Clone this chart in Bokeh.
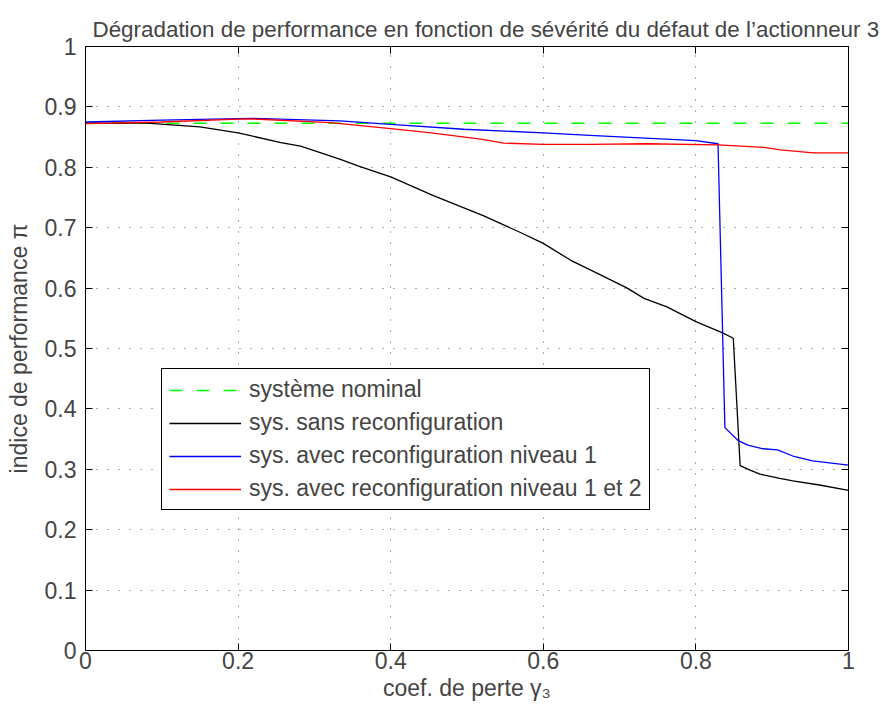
from bokeh.plotting import figure
from bokeh.models import Range1d, FixedTicker, LinearAxis, CustomJSTickFormatter
from bokeh.embed import file_html
from bokeh.resources import INLINE

title_text = "Dégradation de performance en fonction de sévérité du défaut de l’actionneur 3"
x_label = "coef. de perte γ₃"
y_label = "indice de performance π"

x_ticks = [0, 0.2, 0.4, 0.6, 0.8, 1.0]
x_tick_labels = ["0", "0.2", "0.4", "0.6", "0.8", "1"]
y_ticks = [0, 0.1, 0.2, 0.3, 0.4, 0.5, 0.6, 0.7, 0.8, 0.9, 1.0]
y_tick_labels = ["0", "0.1", "0.2", "0.3", "0.4", "0.5", "0.6", "0.7", "0.8", "0.9", "1"]

series_names = ["système nominal", "sys. sans reconfiguration",
                "sys. avec reconfiguration niveau 1", "sys. avec reconfiguration niveau 1 et 2"]

gamma_nominal = [0.0, 1.0]
perf_nominal = [0.873, 0.873]

gamma_sans = [0, 0.08, 0.15, 0.2, 0.256, 0.282, 0.334, 0.358, 0.4, 0.456, 0.522, 0.57, 0.6,
              0.636, 0.675, 0.71, 0.732, 0.762, 0.8, 0.835, 0.849, 0.858, 0.871, 0.884,
              0.91, 0.927, 0.962, 1.0]
perf_sans = [0.873, 0.873, 0.867, 0.857, 0.841, 0.835, 0.813, 0.802, 0.784, 0.753, 0.7195, 0.692,
             0.674, 0.646, 0.622, 0.600, 0.583, 0.569, 0.5446, 0.526, 0.517, 0.306, 0.2985,
             0.292, 0.285, 0.281, 0.274, 0.265]

gamma_n1 = [0, 0.1, 0.2, 0.22, 0.334, 0.4, 0.496, 0.6, 0.661, 0.8, 0.829, 0.838, 0.855, 0.868,
            0.888, 0.907, 0.927, 0.953, 1.0]
perf_n1 = [0.875, 0.878, 0.8806, 0.881, 0.877, 0.871, 0.863, 0.857, 0.853, 0.844, 0.839, 0.369,
           0.348, 0.340, 0.334, 0.332, 0.322, 0.314, 0.307]

gamma_n12 = [0, 0.1, 0.2, 0.22, 0.321, 0.4, 0.453, 0.518, 0.548, 0.6, 0.661, 0.735, 0.829, 0.889,
             0.911, 0.954, 1.0]
perf_n12 = [0.8724, 0.875, 0.8796, 0.880, 0.874, 0.864, 0.857, 0.8466, 0.840, 0.838, 0.838, 0.839,
            0.837, 0.833, 0.829, 0.824, 0.824]

FONT = "Liberation Sans"
FS = "23px"

p = figure(width=880, height=716, output_backend="svg", toolbar_location=None,
           x_range=Range1d(0, 1), y_range=Range1d(0, 1),
           min_border_left=85, min_border_right=32, min_border_top=46, min_border_bottom=66,
           title=title_text)
p.background_fill_color = "white"
p.border_fill_color = "white"
p.outline_line_color = "black"
p.outline_line_width = 1
p.outline_line_alpha = 1

p.title.text_font = FONT
p.title.text_font_size = "22.4px"
p.title.text_font_style = "normal"
p.title.align = "left"
p.title.offset = 7
p.title.vertical_align = "bottom"
p.title.standoff = 10

# axes
for ax, ticks, labels in ((p.xaxis[0], x_ticks, x_tick_labels), (p.yaxis[0], y_ticks, y_tick_labels)):
    ax.ticker = FixedTicker(ticks=ticks)
    ax.major_label_overrides = {t: l for t, l in zip(ticks, labels)}
    ax.major_label_text_font = FONT
    ax.major_label_text_font_size = FS
    ax.axis_label_text_font = FONT
    ax.axis_label_text_font_size = FS
    ax.axis_label_text_font_style = "normal"
    ax.major_tick_in = 7
    ax.major_tick_out = 0
    ax.minor_tick_in = 0
    ax.minor_tick_out = 0
    ax.axis_line_color = "black"
    ax.major_tick_line_color = "black"

p.xaxis.axis_label = x_label
p.yaxis.axis_label = y_label
p.xaxis.major_label_standoff = 1
p.yaxis.major_label_standoff = 9
p.xaxis.axis_label_standoff = 3
p.yaxis.axis_label_standoff = 10

empty = CustomJSTickFormatter(code="return ''")
top_ax = LinearAxis(ticker=FixedTicker(ticks=x_ticks), formatter=empty,
                    major_tick_in=7, major_tick_out=0, minor_tick_in=0, minor_tick_out=0,
                    major_label_standoff=10, axis_line_color="black")
right_ax = LinearAxis(ticker=FixedTicker(ticks=y_ticks), formatter=empty,
                      major_tick_in=7, major_tick_out=0, minor_tick_in=0, minor_tick_out=0,
                      major_label_standoff=0, axis_line_color="black")
p.add_layout(top_ax, "above")
p.add_layout(right_ax, "right")

# grid
for g, ticks in ((p.xgrid[0], x_ticks), (p.ygrid[0], y_ticks)):
    g.ticker = FixedTicker(ticks=ticks)
    g.grid_line_color = "#333333"
    g.grid_line_alpha = 0.8
    g.grid_line_dash = "1 10"
    g.grid_line_width = 1

# lines
p.line(gamma_nominal, perf_nominal, line_color="#00ff00", line_width=1.4, line_dash="13 14",
       legend_label=series_names[0])
p.line(gamma_sans, perf_sans, line_color="black", line_width=1.3, legend_label=series_names[1])
p.line(gamma_n1, perf_n1, line_color="#0000ff", line_width=1.3, legend_label=series_names[2])
p.line(gamma_n12, perf_n12, line_color="#ff0000", line_width=1.3, legend_label=series_names[3])

lg = p.legend[0]
lg.location = (76, 140)
lg.margin = 0
lg.padding = 7
lg.spacing = 6
lg.glyph_width = 72
lg.glyph_height = 24
lg.label_height = 24
lg.label_standoff = 8
lg.label_text_font = FONT
lg.label_text_font_size = FS
lg.border_line_color = "black"
lg.border_line_width = 1
lg.border_line_alpha = 1
lg.background_fill_alpha = 1

open("out.html", "w").write(file_html(p, INLINE))
